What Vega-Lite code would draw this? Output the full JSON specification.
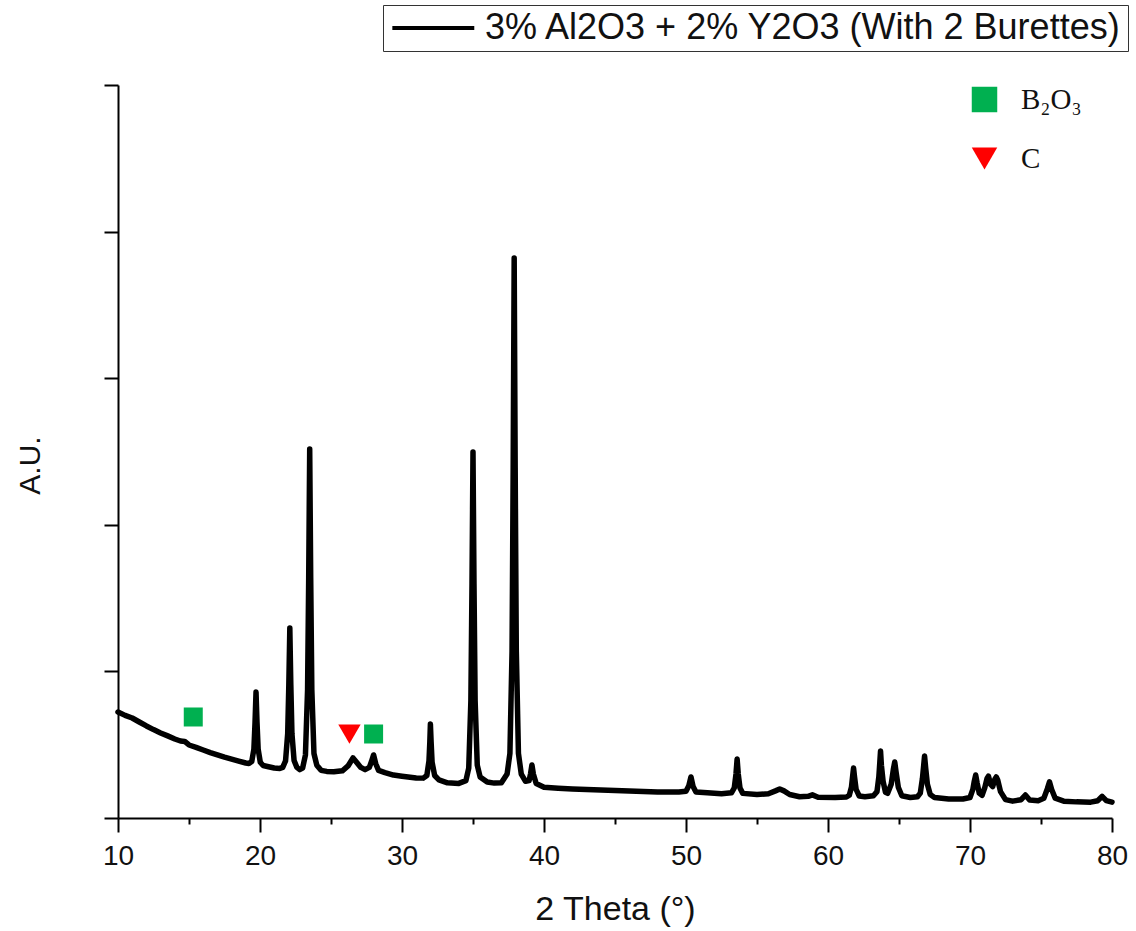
{
  "$schema": "https://vega.github.io/schema/vega-lite/v6.json",
  "width": 994,
  "height": 733,
  "autosize": {"type": "none"},
  "padding": {"left": 118, "top": 85, "right": 24, "bottom": 113},
  "background": "white",
  "config": {"view": {"stroke": null}, "font": "Liberation Sans"},
  "datasets": {
    "xrd": [
      {"two_theta": 10.0, "intensity": 723}, {"two_theta": 10.5, "intensity": 700}, {"two_theta": 11.0, "intensity": 682},
      {"two_theta": 11.5, "intensity": 655}, {"two_theta": 12.0, "intensity": 628}, {"two_theta": 12.5, "intensity": 603},
      {"two_theta": 13.0, "intensity": 580}, {"two_theta": 13.5, "intensity": 560}, {"two_theta": 14.0, "intensity": 539},
      {"two_theta": 14.4, "intensity": 525}, {"two_theta": 14.7, "intensity": 522}, {"two_theta": 15.0, "intensity": 498},
      {"two_theta": 15.5, "intensity": 482}, {"two_theta": 16.0, "intensity": 464}, {"two_theta": 16.5, "intensity": 446},
      {"two_theta": 17.0, "intensity": 430}, {"two_theta": 17.5, "intensity": 415}, {"two_theta": 18.0, "intensity": 402},
      {"two_theta": 18.5, "intensity": 388}, {"two_theta": 19.0, "intensity": 375}, {"two_theta": 19.22, "intensity": 372},
      {"two_theta": 19.42, "intensity": 385}, {"two_theta": 19.57, "intensity": 470}, {"two_theta": 19.65, "intensity": 650},
      {"two_theta": 19.72, "intensity": 859}, {"two_theta": 19.79, "intensity": 650}, {"two_theta": 19.87, "intensity": 470},
      {"two_theta": 20.02, "intensity": 380}, {"two_theta": 20.22, "intensity": 358}, {"two_theta": 20.6, "intensity": 350},
      {"two_theta": 21.0, "intensity": 341}, {"two_theta": 21.4, "intensity": 338}, {"two_theta": 21.6, "intensity": 345},
      {"two_theta": 21.8, "intensity": 390}, {"two_theta": 21.95, "intensity": 575}, {"two_theta": 22.03, "intensity": 911},
      {"two_theta": 22.1, "intensity": 1296}, {"two_theta": 22.17, "intensity": 911}, {"two_theta": 22.25, "intensity": 575},
      {"two_theta": 22.4, "intensity": 392}, {"two_theta": 22.6, "intensity": 345}, {"two_theta": 22.8, "intensity": 330},
      {"two_theta": 23.0, "intensity": 340}, {"two_theta": 23.2, "intensity": 430}, {"two_theta": 23.35, "intensity": 875},
      {"two_theta": 23.43, "intensity": 1641}, {"two_theta": 23.5, "intensity": 2517}, {"two_theta": 23.57, "intensity": 1641},
      {"two_theta": 23.65, "intensity": 875}, {"two_theta": 23.8, "intensity": 440}, {"two_theta": 24.0, "intensity": 360},
      {"two_theta": 24.3, "intensity": 325}, {"two_theta": 24.7, "intensity": 318}, {"two_theta": 25.2, "intensity": 315},
      {"two_theta": 25.8, "intensity": 322}, {"two_theta": 26.2, "intensity": 355}, {"two_theta": 26.55, "intensity": 410},
      {"two_theta": 26.8, "intensity": 380}, {"two_theta": 27.1, "intensity": 345}, {"two_theta": 27.4, "intensity": 330},
      {"two_theta": 27.7, "intensity": 345}, {"two_theta": 27.85, "intensity": 385}, {"two_theta": 28.0, "intensity": 430},
      {"two_theta": 28.15, "intensity": 370}, {"two_theta": 28.35, "intensity": 325}, {"two_theta": 28.8, "intensity": 310},
      {"two_theta": 29.4, "intensity": 293}, {"two_theta": 30.0, "intensity": 285}, {"two_theta": 31.0, "intensity": 273},
      {"two_theta": 31.5, "intensity": 272}, {"two_theta": 31.75, "intensity": 290}, {"two_theta": 31.9, "intensity": 390},
      {"two_theta": 31.96, "intensity": 520}, {"two_theta": 32.0, "intensity": 641}, {"two_theta": 32.05, "intensity": 520},
      {"two_theta": 32.12, "intensity": 380}, {"two_theta": 32.3, "intensity": 290}, {"two_theta": 32.6, "intensity": 260},
      {"two_theta": 33.2, "intensity": 240}, {"two_theta": 34.0, "intensity": 236}, {"two_theta": 34.5, "intensity": 255},
      {"two_theta": 34.7, "intensity": 340}, {"two_theta": 34.85, "intensity": 800}, {"two_theta": 34.93, "intensity": 1598},
      {"two_theta": 35.0, "intensity": 2497}, {"two_theta": 35.07, "intensity": 1598}, {"two_theta": 35.15, "intensity": 800},
      {"two_theta": 35.3, "intensity": 360}, {"two_theta": 35.5, "intensity": 280}, {"two_theta": 36.0, "intensity": 245},
      {"two_theta": 36.5, "intensity": 238}, {"two_theta": 37.0, "intensity": 240}, {"two_theta": 37.4, "intensity": 300},
      {"two_theta": 37.6, "intensity": 440}, {"two_theta": 37.75, "intensity": 1137}, {"two_theta": 37.83, "intensity": 2389},
      {"two_theta": 37.9, "intensity": 3820}, {"two_theta": 37.97, "intensity": 2389}, {"two_theta": 38.05, "intensity": 1137},
      {"two_theta": 38.2, "intensity": 440}, {"two_theta": 38.4, "intensity": 300}, {"two_theta": 38.7, "intensity": 250},
      {"two_theta": 38.95, "intensity": 255}, {"two_theta": 39.05, "intensity": 300}, {"two_theta": 39.15, "intensity": 362},
      {"two_theta": 39.25, "intensity": 300}, {"two_theta": 39.45, "intensity": 235}, {"two_theta": 40.0, "intensity": 210},
      {"two_theta": 41.0, "intensity": 203}, {"two_theta": 42.0, "intensity": 198}, {"two_theta": 44.0, "intensity": 191},
      {"two_theta": 46.0, "intensity": 184}, {"two_theta": 48.0, "intensity": 178}, {"two_theta": 49.5, "intensity": 177},
      {"two_theta": 50.0, "intensity": 182}, {"two_theta": 50.2, "intensity": 220}, {"two_theta": 50.35, "intensity": 280},
      {"two_theta": 50.5, "intensity": 215}, {"two_theta": 50.7, "intensity": 178}, {"two_theta": 51.5, "intensity": 172},
      {"two_theta": 52.5, "intensity": 166}, {"two_theta": 53.2, "intensity": 172}, {"two_theta": 53.4, "intensity": 205},
      {"two_theta": 53.52, "intensity": 300}, {"two_theta": 53.6, "intensity": 402}, {"two_theta": 53.68, "intensity": 300},
      {"two_theta": 53.8, "intensity": 205}, {"two_theta": 54.0, "intensity": 168}, {"two_theta": 55.0, "intensity": 160},
      {"two_theta": 55.8, "intensity": 165}, {"two_theta": 56.3, "intensity": 185}, {"two_theta": 56.6, "intensity": 198},
      {"two_theta": 56.9, "intensity": 185}, {"two_theta": 57.3, "intensity": 160}, {"two_theta": 58.0, "intensity": 145},
      {"two_theta": 58.6, "intensity": 148}, {"two_theta": 58.9, "intensity": 158}, {"two_theta": 59.3, "intensity": 142},
      {"two_theta": 60.5, "intensity": 140}, {"two_theta": 61.3, "intensity": 143}, {"two_theta": 61.5, "intensity": 155},
      {"two_theta": 61.65, "intensity": 210}, {"two_theta": 61.74, "intensity": 290}, {"two_theta": 61.8, "intensity": 341},
      {"two_theta": 61.87, "intensity": 280}, {"two_theta": 61.98, "intensity": 195}, {"two_theta": 62.2, "intensity": 150},
      {"two_theta": 62.6, "intensity": 145}, {"two_theta": 63.2, "intensity": 152}, {"two_theta": 63.45, "intensity": 180},
      {"two_theta": 63.58, "intensity": 280}, {"two_theta": 63.65, "intensity": 380}, {"two_theta": 63.7, "intensity": 457},
      {"two_theta": 63.76, "intensity": 360}, {"two_theta": 63.88, "intensity": 250}, {"two_theta": 64.05, "intensity": 175},
      {"two_theta": 64.2, "intensity": 168}, {"two_theta": 64.45, "intensity": 230}, {"two_theta": 64.6, "intensity": 330},
      {"two_theta": 64.7, "intensity": 382}, {"two_theta": 64.8, "intensity": 310}, {"two_theta": 64.95, "intensity": 210},
      {"two_theta": 65.2, "intensity": 152}, {"two_theta": 65.8, "intensity": 140}, {"two_theta": 66.3, "intensity": 145},
      {"two_theta": 66.5, "intensity": 170}, {"two_theta": 66.65, "intensity": 270}, {"two_theta": 66.74, "intensity": 360},
      {"two_theta": 66.8, "intensity": 423}, {"two_theta": 66.88, "intensity": 340}, {"two_theta": 67.0, "intensity": 230},
      {"two_theta": 67.2, "intensity": 160}, {"two_theta": 67.5, "intensity": 140}, {"two_theta": 68.5, "intensity": 130},
      {"two_theta": 69.5, "intensity": 130}, {"two_theta": 70.0, "intensity": 140}, {"two_theta": 70.2, "intensity": 195},
      {"two_theta": 70.3, "intensity": 250}, {"two_theta": 70.4, "intensity": 293}, {"two_theta": 70.5, "intensity": 240},
      {"two_theta": 70.65, "intensity": 170}, {"two_theta": 70.85, "intensity": 155}, {"two_theta": 71.05, "intensity": 210},
      {"two_theta": 71.2, "intensity": 270}, {"two_theta": 71.3, "intensity": 286}, {"two_theta": 71.45, "intensity": 230},
      {"two_theta": 71.6, "intensity": 215}, {"two_theta": 71.75, "intensity": 265}, {"two_theta": 71.85, "intensity": 280},
      {"two_theta": 71.95, "intensity": 260}, {"two_theta": 72.15, "intensity": 180}, {"two_theta": 72.5, "intensity": 125},
      {"two_theta": 73.0, "intensity": 115}, {"two_theta": 73.6, "intensity": 125}, {"two_theta": 73.9, "intensity": 157},
      {"two_theta": 74.2, "intensity": 122}, {"two_theta": 74.8, "intensity": 118}, {"two_theta": 75.2, "intensity": 135},
      {"two_theta": 75.45, "intensity": 200}, {"two_theta": 75.6, "intensity": 246}, {"two_theta": 75.75, "intensity": 195},
      {"two_theta": 76.0, "intensity": 135}, {"two_theta": 76.6, "intensity": 115}, {"two_theta": 77.5, "intensity": 110},
      {"two_theta": 78.5, "intensity": 108}, {"two_theta": 79.0, "intensity": 118}, {"two_theta": 79.3, "intensity": 148},
      {"two_theta": 79.6, "intensity": 118}, {"two_theta": 80.0, "intensity": 108}
    ],
    "markers": [
      {"two_theta": 15.3, "intensity": 689, "phase": "B₂O₃"},
      {"two_theta": 28.0, "intensity": 573, "phase": "B₂O₃"},
      {"two_theta": 26.3, "intensity": 572, "phase": "C"}
    ]
  },
  "layer": [
    {
      "data": {"name": "xrd"},
      "transform": [{"calculate": "'3% Al2O3 + 2% Y2O3 (With 2 Burettes)'", "as": "sample"}],
      "mark": {"type": "line", "strokeWidth": 5.5, "strokeJoin": "round", "strokeCap": "round"},
      "encoding": {
        "x": {
          "field": "two_theta", "type": "quantitative",
          "scale": {"domain": [10, 80], "nice": false},
          "axis": {
            "title": "2 Theta (°)",
            "values": [10, 15, 20, 25, 30, 35, 40, 45, 50, 55, 60, 65, 70, 75, 80],
            "labelExpr": "datum.value % 10 === 0 ? datum.label : ''",
            "tickSize": {"condition": {"test": "datum.value % 10 === 0", "value": 14}, "value": 6},
            "grid": false, "domainColor": "black", "domainWidth": 2, "tickColor": "black", "tickWidth": 2,
            "labelFont": "Liberation Sans", "labelFontSize": 28, "labelColor": "#111", "labelPadding": 10, "labelFlush": false,
            "titleFont": "Liberation Sans", "titleFontSize": 34, "titleFontWeight": "normal", "titleColor": "#111", "titlePadding": 22
          }
        },
        "y": {
          "field": "intensity", "type": "quantitative",
          "scale": {"domain": [0, 5000], "nice": false},
          "axis": {
            "title": "A.U.",
            "values": [0, 1000, 2000, 3000, 4000, 5000],
            "labels": false, "tickSize": 14,
            "grid": false, "domainColor": "black", "domainWidth": 2, "tickColor": "black", "tickWidth": 2,
            "titleFont": "Liberation Sans", "titleFontSize": 30, "titleFontWeight": "normal", "titleColor": "#111", "titlePadding": 58,
            "titleY": 380
          }
        },
        "stroke": {
          "field": "sample", "type": "nominal",
          "scale": {"range": ["black"]},
          "legend": {
            "title": null, "orient": "none", "legendX": 265, "legendY": -80,
            "symbolType": "M-1,0L5,0", "symbolSize": 746, "symbolStrokeWidth": 4,
            "labelFont": "Liberation Sans", "labelFontSize": 36, "labelColor": "#111", "labelOffset": 61, "labelLimit": 1000,
            "strokeColor": "#333", "padding": 5, "fillColor": "white"
          }
        }
      }
    },
    {
      "data": {"name": "markers"},
      "mark": {"type": "point", "filled": true, "opacity": 1, "strokeWidth": 0},
      "encoding": {
        "x": {"field": "two_theta", "type": "quantitative"},
        "y": {"field": "intensity", "type": "quantitative"},
        "size": {"condition": {"test": "datum.phase === 'C'", "value": 500}, "value": 361},
        "fill": {
          "field": "phase", "type": "nominal",
          "scale": {"domain": ["B₂O₃", "C"], "range": ["#00B050", "#FF0000"]},
          "legend": {
            "title": null, "orient": "none", "legendX": 852, "legendY": 0, "padding": 0,
            "symbolSize": 650, "symbolStrokeWidth": 0, "rowPadding": 29, "labelOffset": 22,
            "labelFont": "Liberation Serif", "labelFontSize": 29, "labelColor": "#111"
          }
        },
        "shape": {
          "field": "phase", "type": "nominal",
          "scale": {"domain": ["B₂O₃", "C"], "range": ["square", "triangle-down"]},
          "legend": {
            "title": null, "orient": "none", "legendX": 852, "legendY": 0, "padding": 0,
            "symbolSize": 650, "symbolStrokeWidth": 0, "rowPadding": 29, "labelOffset": 22,
            "labelFont": "Liberation Serif", "labelFontSize": 29, "labelColor": "#111"
          }
        }
      }
    }
  ]
}
